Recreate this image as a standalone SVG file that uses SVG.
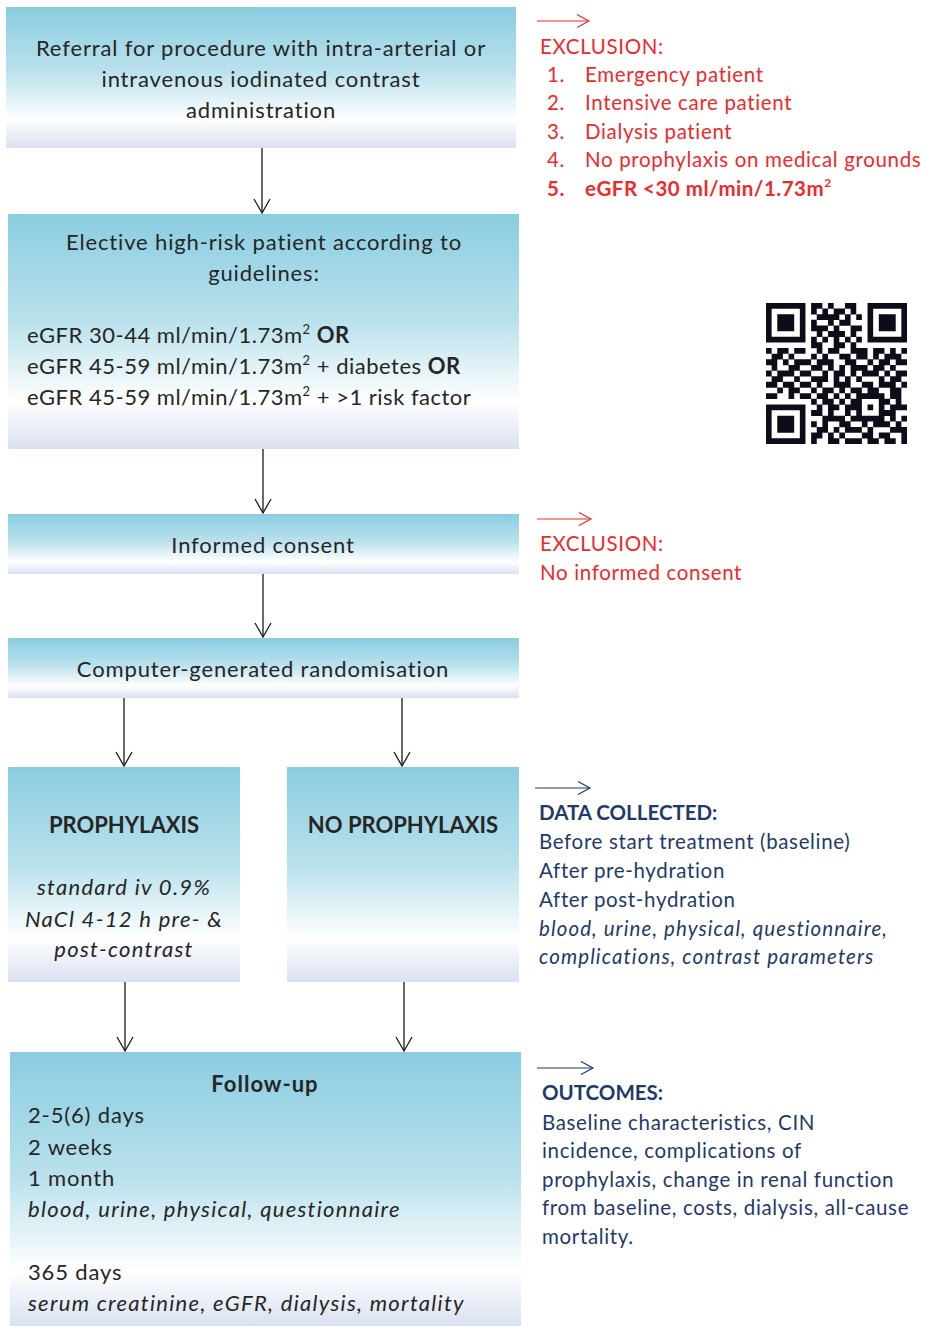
<svg xmlns="http://www.w3.org/2000/svg" width="926" height="1326" viewBox="0 0 926 1326">
<defs>
<linearGradient id="g" x1="0" y1="0" x2="0" y2="1">
<stop offset="0" stop-color="#8acde0"/>
<stop offset="0.45" stop-color="#b9e1ec"/>
<stop offset="0.8" stop-color="#ffffff"/>
<stop offset="0.86" stop-color="#f3f5fb"/>
<stop offset="1" stop-color="#d9e1f1"/>
</linearGradient>
<marker id="ah" viewBox="-16 -10 18 20" refX="0" refY="0" markerWidth="18" markerHeight="20" markerUnits="userSpaceOnUse" orient="auto" overflow="visible">
<path d="M-14,-8 L0,0 L-14,8" fill="none" stroke="#1a1a1a" stroke-width="1.3"/>
</marker>
<marker id="ahr" viewBox="-16 -10 18 20" refX="0" refY="0" markerWidth="18" markerHeight="20" markerUnits="userSpaceOnUse" orient="auto" overflow="visible">
<path d="M-12,-6.5 L0,0 L-12,6.5" fill="none" stroke="#ee2a2a" stroke-width="1.2"/>
</marker>
<marker id="ahb" viewBox="-16 -10 18 20" refX="0" refY="0" markerWidth="18" markerHeight="20" markerUnits="userSpaceOnUse" orient="auto" overflow="visible">
<path d="M-12,-6.5 L0,0 L-12,6.5" fill="none" stroke="#1f3a68" stroke-width="1.2"/>
</marker>
</defs>
<style>
.box{fill:url(#g);}
text{font-family:"Lato","Open Sans",sans-serif;}
.t{font-size:22px;fill:#262626;letter-spacing:0.85px;}
.c{text-anchor:middle;}
.b{font-weight:bold;}
.i{font-style:italic;}
.t.b{letter-spacing:0px;}
.t.i{letter-spacing:1.3px;}
.eg{letter-spacing:0.5px;}
.r{font-size:20.5px;fill:#ee2a2a;letter-spacing:0.65px;}
.bl{font-size:20.5px;fill:#1f3a68;letter-spacing:0.65px;}
.bl.i{letter-spacing:1.1px;}
.bl.b{letter-spacing:0px;}
.r.b{letter-spacing:0.5px;}
.con{stroke:#1a1a1a;stroke-width:1.3;fill:none;marker-end:url(#ah);}
.cr{stroke:#ee2a2a;stroke-width:1.2;fill:none;marker-end:url(#ahr);}
.cb{stroke:#1f3a68;stroke-width:1.2;fill:none;marker-end:url(#ahb);}
</style>
<rect width="926" height="1326" fill="#ffffff"/>

<g id="referral">
<rect class="box" x="6" y="7" width="510" height="141"/>
<text class="t c" x="261" y="56">Referral for procedure with intra-arterial or</text>
<text class="t c" x="261" y="87">intravenous iodinated contrast</text>
<text class="t c" x="261" y="118">administration</text>
</g>

<g id="highrisk">
<rect class="box" x="8" y="214" width="511" height="235"/>
<text class="t c" x="264" y="250">Elective high-risk patient according to</text>
<text class="t c" x="264" y="281">guidelines:</text>
<text class="t eg" x="27" y="343">eGFR 30-44 ml/min/1.73m<tspan dy="-9" font-size="13">2</tspan><tspan dy="9"> </tspan><tspan class="b">OR</tspan></text>
<text class="t eg" x="27" y="374">eGFR 45-59 ml/min/1.73m<tspan dy="-9" font-size="13">2</tspan><tspan dy="9"> + diabetes </tspan><tspan class="b">OR</tspan></text>
<text class="t eg" x="27" y="405">eGFR 45-59 ml/min/1.73m<tspan dy="-9" font-size="13">2</tspan><tspan dy="9"> + &gt;1 risk factor</tspan></text>
</g>

<g id="consent">
<rect class="box" x="8" y="514" width="511" height="60"/>
<text class="t c" x="263" y="553">Informed consent</text>
</g>

<g id="random">
<rect class="box" x="8" y="638" width="511" height="60"/>
<text class="t c" x="263" y="677">Computer-generated randomisation</text>
</g>

<g id="prophylaxis">
<rect class="box" x="8" y="767" width="232" height="215"/>
<text class="t c b" x="124" y="833">PROPHYLAXIS</text>
<text class="t c i" x="124" y="895">standard iv 0.9%</text>
<text class="t c i" x="124" y="927">NaCl 4-12 h pre- &amp;</text>
<text class="t c i" x="124" y="957">post-contrast</text>
</g>

<g id="noprophylaxis">
<rect class="box" x="287" y="767" width="232" height="215"/>
<text class="t c b" x="403" y="833">NO PROPHYLAXIS</text>
</g>

<g id="followup">
<rect class="box" x="10" y="1052" width="511" height="274"/>
<text class="t c b" x="265" y="1092" style="letter-spacing:1px">Follow-up</text>
<text class="t" x="28" y="1123">2-5(6) days</text>
<text class="t" x="28" y="1155">2 weeks</text>
<text class="t" x="28" y="1186">1 month</text>
<text class="t i" x="28" y="1217">blood, urine, physical, questionnaire</text>
<text class="t" x="28" y="1280">365 days</text>
<text class="t i" x="28" y="1311">serum creatinine, eGFR, dialysis, mortality</text>
</g>

<g id="exclusion1">
<text class="r" x="540" y="54">EXCLUSION:</text>
<text class="r" x="547" y="82">1.</text><text class="r" x="585" y="82">Emergency patient</text>
<text class="r" x="547" y="110">2.</text><text class="r" x="585" y="110">Intensive care patient</text>
<text class="r" x="547" y="139">3.</text><text class="r" x="585" y="139">Dialysis patient</text>
<text class="r" x="547" y="167">4.</text><text class="r" x="585" y="167">No prophylaxis on medical grounds</text>
<text class="r b" x="547" y="196">5.</text><text class="r b" x="585" y="196">eGFR &lt;30 ml/min/1.73m<tspan dy="-9" font-size="12">2</tspan></text>
</g>

<g id="qr">
<path transform="translate(766 303) scale(5.64)" fill="none" stroke="#0d0d1a" stroke-width="1.04" d="
M0 0.5h7M8 0.5h2M11 0.5h1M14 0.5h2M18 0.5h7
M0 1.5h1M6 1.5h1M8 1.5h1M10 1.5h1M12 1.5h2M15 1.5h1M18 1.5h1M24 1.5h1
M0 2.5h1M2 2.5h3M6 2.5h1M9 2.5h4M14 2.5h1M16 2.5h1M18 2.5h1M20 2.5h3M24 2.5h1
M0 3.5h1M2 3.5h3M6 3.5h1M8 3.5h1M11 3.5h1M13 3.5h2M18 3.5h1M20 3.5h3M24 3.5h1
M0 4.5h1M2 4.5h3M6 4.5h1M8 4.5h3M12 4.5h1M15 4.5h2M18 4.5h1M20 4.5h3M24 4.5h1
M0 5.5h1M6 5.5h1M9 5.5h1M11 5.5h3M15 5.5h1M18 5.5h1M24 5.5h1
M0 6.5h7M8 6.5h1M10 6.5h1M12 6.5h1M14 6.5h1M16 6.5h1M18 6.5h7
M8 7.5h2M12 7.5h2M15 7.5h1
M0 8.5h1M2 8.5h2M5 8.5h2M9 8.5h1M11 8.5h2M15 8.5h3M19 8.5h2M22 8.5h1M24 8.5h1
M1 9.5h2M4 9.5h1M8 9.5h1M10 9.5h1M13 9.5h2M16 9.5h2M19 9.5h1M21 9.5h3
M0 10.5h2M3 10.5h1M5 10.5h3M9 10.5h3M14 10.5h2M18 10.5h1M20 10.5h2M23 10.5h2
M1 11.5h1M4 11.5h2M8 11.5h2M11 11.5h1M13 11.5h1M15 11.5h3M19 11.5h2M22 11.5h1
M0 12.5h1M2 12.5h3M6 12.5h2M10 12.5h1M12 12.5h2M15 12.5h1M17 12.5h3M21 12.5h1M23 12.5h2
M1 13.5h2M5 13.5h1M8 13.5h3M12 13.5h1M14 13.5h1M16 13.5h1M20 13.5h1M22 13.5h2
M0 14.5h2M3 14.5h2M6 14.5h2M9 14.5h1M12 14.5h3M17 14.5h2M20 14.5h3M24 14.5h1
M2 15.5h1M4 15.5h2M8 15.5h1M10 15.5h2M13 15.5h1M15 15.5h2M18 15.5h2M22 15.5h2
M0 16.5h2M4 16.5h1M6 16.5h2M9 16.5h2M12 16.5h1M14 16.5h1M16 16.5h5M22 16.5h2
M8 17.5h1M10 17.5h2M13 17.5h1M15 17.5h2M20 17.5h2M23 17.5h1
M0 18.5h7M9 18.5h1M11 18.5h2M14 18.5h3M18 18.5h1M20 18.5h1M22 18.5h3
M0 19.5h1M6 19.5h1M8 19.5h2M11 19.5h1M14 19.5h1M16 19.5h1M20 19.5h3
M0 20.5h1M2 20.5h3M6 20.5h1M10 20.5h4M15 20.5h6M22 20.5h1M24 20.5h1
M0 21.5h1M2 21.5h3M6 21.5h1M8 21.5h1M10 21.5h1M13 21.5h2M17 21.5h1M19 21.5h3M23 21.5h1
M0 22.5h1M2 22.5h3M6 22.5h1M9 22.5h2M12 22.5h1M14 22.5h3M18 22.5h1M22 22.5h3
M0 23.5h1M6 23.5h1M8 23.5h2M11 23.5h1M13 23.5h1M17 23.5h2M20 23.5h2M24 23.5h1
M0 24.5h7M8 24.5h1M11 24.5h2M14 24.5h3M18 24.5h2M21 24.5h2M24 24.5h1"/>
</g>

<g id="exclusion2">
<text class="r" x="540" y="551">EXCLUSION:</text>
<text class="r" x="540" y="580">No informed consent</text>
</g>

<g id="datacollected">
<text class="bl b" x="539" y="820">DATA COLLECTED:</text>
<text class="bl" x="539" y="849">Before start treatment (baseline)</text>
<text class="bl" x="539" y="878">After pre-hydration</text>
<text class="bl" x="539" y="907">After post-hydration</text>
<text class="bl i" x="539" y="936">blood, urine, physical, questionnaire,</text>
<text class="bl i" x="539" y="964">complications, contrast parameters</text>
</g>

<g id="outcomes">
<text class="bl b" x="542" y="1100">OUTCOMES:</text>
<text class="bl" x="542" y="1130">Baseline characteristics, CIN</text>
<text class="bl" x="542" y="1158">incidence, complications of</text>
<text class="bl" x="542" y="1187">prophylaxis, change in renal function</text>
<text class="bl" x="542" y="1215">from baseline, costs, dialysis, all-cause</text>
<text class="bl" x="542" y="1244">mortality.</text>
</g>

<g id="connectors">
<line class="con" x1="262" y1="148" x2="262" y2="213"/>
<line class="con" x1="263" y1="449" x2="263" y2="513"/>
<line class="con" x1="263" y1="574" x2="263" y2="637"/>
<line class="con" x1="124" y1="698" x2="124" y2="766"/>
<line class="con" x1="402" y1="698" x2="402" y2="766"/>
<line class="con" x1="125" y1="982" x2="125" y2="1051"/>
<line class="con" x1="404" y1="982" x2="404" y2="1051"/>
<line class="cr" x1="537" y1="21" x2="589" y2="21"/>
<line class="cr" x1="537" y1="519" x2="591" y2="519"/>
<line class="cb" x1="535" y1="788" x2="590" y2="788"/>
<line class="cb" x1="537" y1="1068" x2="593" y2="1068"/>
</g>
</svg>
